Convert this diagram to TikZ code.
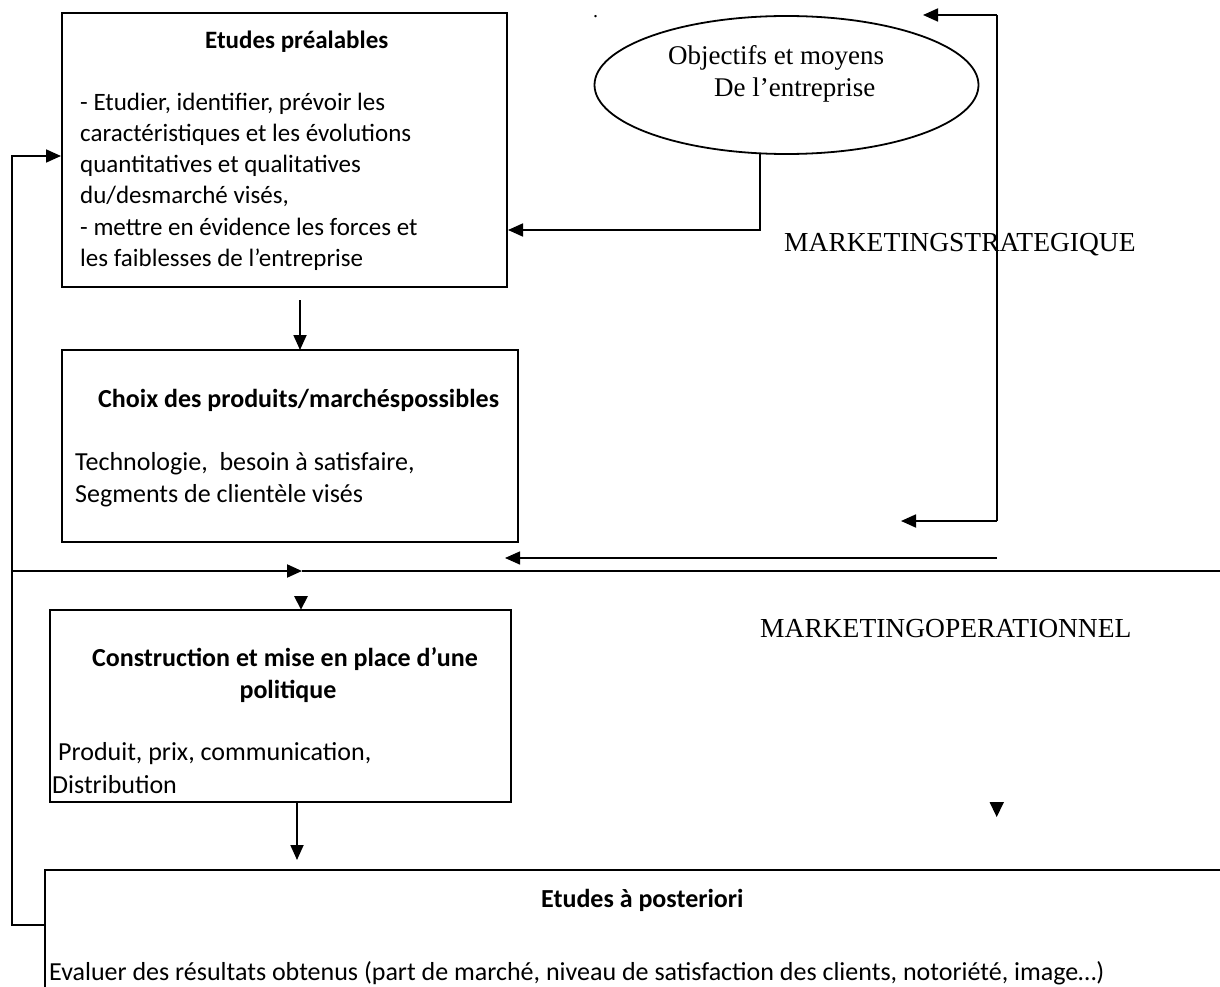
\documentclass[tikz,border=0pt]{standalone}
\usepackage{fontspec}
\setmainfont{Carlito}
\newfontfamily\labelserif{Liberation Serif}
\usetikzlibrary{arrows.meta,shapes.geometric}
\begin{document}
\begin{tikzpicture}[x=1pt,y=-1pt,
  box/.style={draw, line width=2pt, inner sep=0pt},
  conn/.style={line width=1.8pt},
  arr/.style={conn, -{Triangle[length=15pt,width=13pt]}},
  txt/.style={anchor=base west, inner sep=0pt, font=\fontsize{26}{31}\selectfont},
  ttl/.style={anchor=base west, inner sep=0pt, font=\fontsize{26}{31}\selectfont\bfseries},
  smalltxt/.style={txt, font=\fontsize{25}{31}\selectfont},
  smallttl/.style={ttl, font=\fontsize{25}{31}\selectfont\bfseries},
  big/.style={anchor=base west, inner sep=0pt, font=\labelserif\fontsize{27.5}{33}\selectfont},
  oval/.style={anchor=base west, inner sep=0pt, font=\labelserif\fontsize{27}{32}\selectfont},
  tip/.style={fill=black, draw=none},
]
\useasboundingbox (0,0) rectangle (1220,987);
\clip (0,0) rectangle (1220,987);

% boxes
\node[box, minimum width=445pt, minimum height=273pt] (pre) at (284.5,150) {};
\node[box, minimum width=456pt, minimum height=192pt] (choix) at (290,446) {};
\node[box, minimum width=461pt, minimum height=192pt] (polit) at (280.5,706) {};
\node[box, line width=2.6pt, minimum width=1200pt, minimum height=150pt] (post) at (645,945) {};
\node[draw, ellipse, line width=1.8pt, minimum width=384pt, minimum height=138pt] (obj) at (786.5,85) {};

% texts: etudes prealables
\node[smallttl] (preT) at (205,49) {Etudes préalables};
\node[smalltxt] (pre1) at (80,111) {- Etudier, identifier, prévoir les};
\node[smalltxt] (pre2) at (80,142) {caractéristiques et les évolutions};
\node[smalltxt] (pre3) at (80,173) {quantitatives et qualitatives};
\node[smalltxt] (pre4) at (80,204) {du/desmarché visés,};
\node[smalltxt] (pre5) at (80,235) {- mettre en évidence les forces et};
\node[smalltxt] (pre6) at (80,266) {les faiblesses de l’entreprise};

% texts: choix
\node[ttl] (choixT) at (98,407) {Choix des produits/marchéspossibles};
\node[txt] (choix1) at (75,470) {Technologie,\ \ besoin à satisfaire,};
\node[txt] (choix2) at (75,502) {Segments de clientèle visés};

% texts: politique
\node[ttl, anchor=base] (politT1) at (285,666) {Construction et mise en place d’une};
\node[ttl, anchor=base] (politT2) at (288,698) {politique};
\node[txt] (polit1) at (58,760) {Produit, prix, communication,};
\node[txt] (polit2) at (52,793) {Distribution};

% texts: posteriori
\node[ttl] (postT) at (541,907) {Etudes à posteriori};
\node[txt] (post1) at (49,980) {Evaluer des résultats obtenus (part de marché, niveau de satisfaction des clients, notoriété, image…)};

% ellipse text and section labels
\node[oval] (obj1) at (668,65) {Objectifs et moyens};
\node[oval] (obj2) at (714,97) {De l’entreprise};
\node[big] (strat) at (784,251) {MARKETINGSTRATEGIQUE};
\node[big] (oper) at (760,637) {MARKETINGOPERATIONNEL};
\node[oval, font=\labelserif\fontsize{20}{24}\selectfont] (dot) at (593,18) {.};

% connector points
\coordinate (vTop) at (997,15);
\coordinate (vBot) at (997,521);
\coordinate (topTip) at (923,15);
\coordinate (botTip) at (901,521);
\coordinate (eDown) at (760,153);
\coordinate (eCorner) at (760,230);
\coordinate (preIn) at (pre.east |- eCorner);
\coordinate (feedR) at (997,558);
\coordinate (feedTip) at (505,558);
\coordinate (sepL) at (12,571);
\coordinate (sepMid) at (302,571);
\coordinate (sepR) at (1220,571);
\coordinate (loopTop) at (12,156);
\coordinate (loopBot) at (12,925);
\coordinate (postL) at (post.west |- loopBot);
\coordinate (preL) at (pre.west |- loopTop);
\coordinate (a1s) at (300,300);
\coordinate (a1e) at (300,350);
\coordinate (a2s) at (297,802);
\coordinate (a2e) at (297,860);

% right-hand loop
\draw[conn] (vTop) -- (vBot);
\draw[arr] (vTop) -- (topTip);
\draw[arr] (vBot) -- (botTip);
\draw[arr, line width=1.5pt] (feedR) -- (feedTip);

% ellipse to etudes prealables
\draw[arr] (eDown) -- (eCorner) -- (preIn);

% vertical flow
\draw[arr] (a1s) -- (a1e);
\draw[arr] (a2s) -- (a2e);

% separator line between strategic and operational
\draw[arr, line width=2pt] (sepL) -- (sepMid);
\draw[conn, line width=2pt] (sepMid) -- (sepR);

% feedback from posteriori to prealables
\draw[arr] (postL) -- (loopBot) -- (loopTop) -- (preL);

% isolated arrow heads
\fill[tip] (294,596) -- (308,596) -- (301,609.5) -- cycle;
\fill[tip] (989.5,802) -- (1004,802) -- (996.7,817) -- cycle;
\end{tikzpicture}
\end{document}
